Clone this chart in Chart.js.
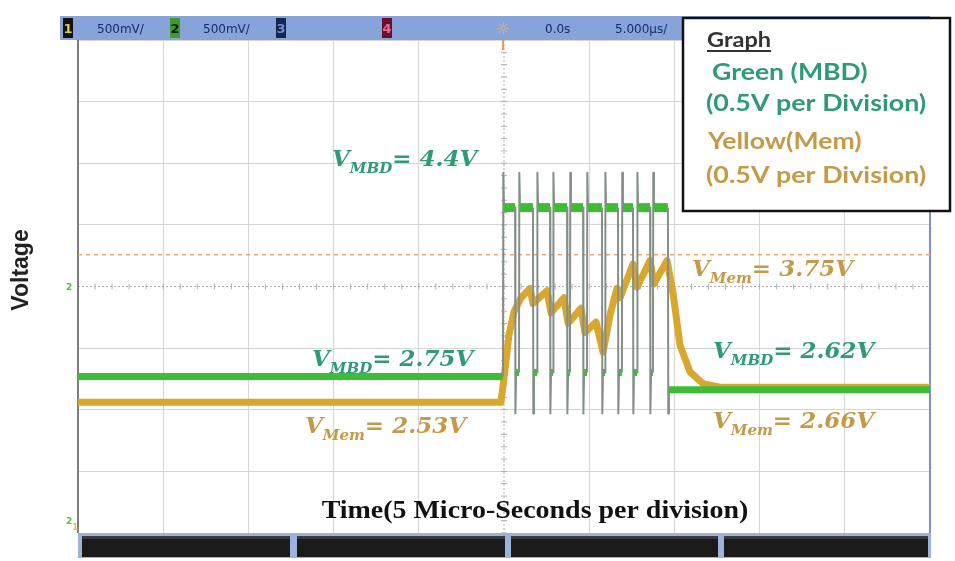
<!DOCTYPE html>
<html>
<head>
<meta charset="utf-8">
<title>MBD / Mem</title>
<script src="https://cdn.jsdelivr.net/npm/chart.js@4.4.1/dist/chart.umd.min.js"></script>
<style>
  html, body { margin: 0; padding: 0; background: #fff; }
  canvas { display: block; }
</style>
</head>
<body>
<canvas id="scope" width="955" height="561"></canvas>
<script>
// Time base: 5 us per division, 10 divisions around the trigger
const timeMin = -25
const timeMax = 25
const timeStep = 5

// Vertical graticule
const divCount = 8

// Channel 2 (MBD) pulse train edges, in us
const mbdRise = [-0.06, 0.88, 1.94, 2.88, 3.87, 4.87, 5.93, 6.92, 7.81, 8.74]
const mbdFall = [0.65, 1.70, 2.70, 3.70, 4.64, 5.75, 6.69, 7.57, 8.57, 9.62]

// Channel 2 levels (V)
const mbdBefore = 2.75
const mbdHigh = 4.4
const mbdOvershoot = 4.74
const mbdLow = 2.79
const mbdUndershoot = 2.39
const mbdAfter = 2.62

// Channel 1 (Mem) levels (V)
const memBefore = 2.53
const memPeak = 3.75
const memAfter = 2.66

// Channel 1 trace
const memTime = [-25, -0.18, 0.06, 0.29, 0.59, 1.0, 1.53, 1.70, 2.52, 2.76, 3.52, 3.76, 4.52, 4.75, 5.40, 5.81, 6.22, 6.63, 6.81, 7.57, 7.81, 8.57, 8.80, 9.57, 9.92, 10.33, 10.92, 11.68, 12.68, 25]
const memVolt = [memBefore, memBefore, 2.81, 3.11, 3.31, 3.43, 3.51, 3.38, 3.49, 3.30, 3.43, 3.21, 3.34, 3.13, 3.22, 2.96, 3.28, 3.51, 3.43, 3.72, 3.52, memPeak, 3.55, memPeak, 3.47, 3.02, 2.79, 2.69, memAfter, memAfter]

// Trigger level on channel 1
const trigLevel = 3.8

// Screen range of each channel (offset + scale)
const mbdRange = [1.222, 6.037]
const memRange = [1.405, 5.648]

const GREEN = '#3dbd35'
const EDGE = '#858f88'
const GOLD = '#d9a62e'
const TEAL_TXT = '#2f9a78'
const GOLD_TXT = '#c49a48'

function mbdPoints() {
  const pts = [{ x: timeMin, y: mbdBefore }]
  mbdRise.forEach((r, i) => {
    const f = mbdFall[i]
    const last = i == mbdRise.length - 1
    pts.push({ x: r, y: i == 0 ? mbdBefore : mbdLow })
    pts.push({ x: r + 0.02, y: mbdOvershoot })
    pts.push({ x: r + 0.06, y: mbdHigh })
    pts.push({ x: f, y: mbdHigh })
    pts.push({ x: f + 0.02, y: mbdUndershoot })
    pts.push({ x: f + 0.06, y: last ? mbdAfter : mbdLow })
  })
  pts.push({ x: timeMax, y: mbdAfter })
  return pts
}

// steep parts of the trace are drawn thin and grey, like on the scope
const isEdge = s => Math.abs(s.p1.parsed.y - s.p0.parsed.y) > 0.1

function line(c, x1, y1, x2, y2) {
  c.beginPath()
  c.moveTo(x1, y1)
  c.lineTo(x2, y2)
  c.stroke()
}

// text squeezed/stretched horizontally
function wideText(c, text, x, y, sx) {
  c.save()
  c.translate(x, y)
  c.scale(sx, 1)
  c.fillText(text, 0, 0)
  c.restore()
  return c.measureText(text).width * sx
}

function chBox(c, x, label, bg, fg) {
  c.fillStyle = bg
  c.fillRect(x, 18, 10, 20)
  c.fillStyle = fg
  c.font = 'bold 13px "DejaVu Sans"'
  c.textAlign = 'center'
  c.fillText(label, x + 5, 33)
  c.textAlign = 'left'
}

function valueLabel(c, x, y, sub, value, color) {
  c.fillStyle = color
  c.font = 'bold italic 23px "DejaVu Serif"'
  c.fillText('V', x, y)
  let w = c.measureText('V').width
  c.font = 'bold italic 15px "DejaVu Serif"'
  c.fillText(sub, x + w, y + 7)
  w += c.measureText(sub).width
  c.font = 'bold italic 23px "DejaVu Serif"'
  c.fillText('= ' + value + 'V', x + w, y)
}

const scopeScreen = {
  id: 'scopeScreen',
  beforeDraw(chart) {
    const c = chart.ctx
    c.save()
    c.fillStyle = '#fff'
    c.fillRect(0, 0, chart.width, chart.height)
    c.restore()
  },
  beforeDatasetsDraw(chart) {
    const { ctx: c, chartArea: a, scales } = chart
    const cx = scales.x.getPixelForValue(0)
    const cy = scales.div.getPixelForValue(divCount / 2)
    c.save()
    c.strokeStyle = '#b0b0b0'
    c.lineWidth = 1
    c.setLineDash([2, 2])
    line(c, a.left, cy, a.right, cy)
    line(c, cx, a.top, cx, a.bottom)
    c.setLineDash([])
    // minor ticks, 5 per division
    for (let t = timeMin; t <= timeMax; t += 1) {
      const px = scales.x.getPixelForValue(t)
      line(c, px, cy - 3, px, cy + 3)
    }
    for (let d = 0; d <= divCount; d += 0.2) {
      const py = scales.div.getPixelForValue(d)
      line(c, cx - 3, py, cx + 3, py)
    }
    // frame
    c.lineWidth = 2
    c.strokeStyle = '#7d7d7d'
    line(c, a.left, a.top, a.left, a.bottom)
    c.strokeStyle = '#8093c0'
    line(c, a.right, a.top, a.right, a.bottom)
    // trigger position marker
    c.strokeStyle = '#f09a4a'
    line(c, cx - 1, a.top, cx - 1, a.top + 10)
    c.restore()
  },
  afterDraw(chart) {
    const { ctx: c, chartArea: a } = chart
    c.save()

    // status bar
    c.fillStyle = '#86a4d8'
    c.fillRect(60, 16, a.right - 60, 24)
    chBox(c, 63, '1', '#111', '#e3cf3a')
    chBox(c, 170, '2', '#3c9c2c', '#0c1a0c')
    chBox(c, 276, '3', '#16264f', '#6d8fd8')
    chBox(c, 382, '4', '#6c1030', '#e07090')
    c.fillStyle = '#1b2a66'
    c.font = '12px "DejaVu Sans"'
    c.fillText('500mV/', 97, 33)
    c.fillText('500mV/', 203, 33)
    c.fillText('0.0s', 545, 33)
    c.fillText('5.000µs/', 615, 33)
    c.fillStyle = '#f2b36a'
    c.font = '16px "DejaVu Sans"'
    c.fillText('☼', 496, 34)

    // softkey bar
    c.fillStyle = '#9db3dc'
    c.fillRect(a.left, a.bottom, a.right - a.left + 1, 25)
    ;[[82, 290], [297, 505], [511, 718], [724, 928]].forEach(([l, r]) => {
      c.fillStyle = '#1b1b1b'
      c.fillRect(l, a.bottom + 3, r - l, 21)
      c.fillStyle = '#3a3a3a'
      c.fillRect(l, a.bottom + 3, r - l, 3)
    })

    // ground / channel markers on the left
    c.font = 'bold 9px "DejaVu Sans"'
    c.fillStyle = '#4cc43a'
    c.fillText('2', 66, 290)
    c.fillText('2', 66, 524)
    c.fillStyle = '#e0c63a'
    c.fillText('1', 72, 530)

    // legend box
    c.fillStyle = '#fff'
    c.fillRect(683, 18, 267, 193)
    c.strokeStyle = '#111'
    c.lineWidth = 2.5
    c.strokeRect(683, 18, 267, 193)
    c.font = 'bold 21px Lato'
    c.fillStyle = '#333'
    const gw = wideText(c, 'Graph', 707, 47, 1.12)
    c.lineWidth = 2
    c.strokeStyle = '#333'
    line(c, 707, 51, 707 + gw, 51)
    c.font = 'bold 22px Lato'
    c.fillStyle = TEAL_TXT
    wideText(c, 'Green (MBD)', 712, 80, 1.21)
    wideText(c, '(0.5V per Division)', 706, 111, 1.22)
    c.fillStyle = GOLD_TXT
    wideText(c, 'Yellow(Mem)', 708, 149, 1.21)
    wideText(c, '(0.5V per Division)', 706, 183, 1.22)

    // measured values
    valueLabel(c, 332, 166, 'MBD', mbdHigh, TEAL_TXT)
    valueLabel(c, 312, 366, 'MBD', mbdBefore, TEAL_TXT)
    valueLabel(c, 305, 433, 'Mem', memBefore, GOLD_TXT)
    valueLabel(c, 692, 276, 'Mem', memPeak, GOLD_TXT)
    valueLabel(c, 713, 358, 'MBD', mbdAfter, TEAL_TXT)
    valueLabel(c, 713, 428, 'Mem', memAfter, GOLD_TXT)

    // axis titles
    c.fillStyle = '#111'
    c.font = 'bold 26px "Liberation Serif"'
    const tt = 'Time(5 Micro-Seconds per division)'
    const tw = c.measureText(tt).width * 1.075
    wideText(c, tt, 535 - tw / 2, 518, 1.075)
    c.translate(22, 270)
    c.rotate(-Math.PI / 2)
    c.font = 'bold 23px "Liberation Sans"'
    c.fillStyle = '#222'
    c.textAlign = 'center'
    c.textBaseline = 'middle'
    c.fillText('Voltage', 0, 0)
    c.restore()
  }
}

const gridColor = '#d6d6d6'

new Chart(document.getElementById('scope'), {
  type: 'line',
  data: {
    datasets: [
      {
        label: 'MBD',
        data: mbdPoints(),
        yAxisID: 'yM2',
        borderColor: GREEN,
        borderWidth: 7,
        borderJoinStyle: 'round',
        segment: {
          borderColor: s => isEdge(s) ? EDGE : GREEN,
          borderWidth: s => isEdge(s) ? 2 : (s.p0.parsed.y == mbdHigh ? 9 : 7)
        }
      },
      {
        label: 'Mem',
        data: memTime.map((t, i) => ({ x: t, y: memVolt[i] })),
        yAxisID: 'yM1',
        borderColor: GOLD,
        borderWidth: 7,
        borderJoinStyle: 'round'
      },
      {
        label: 'Trigger',
        data: [{ x: timeMin, y: trigLevel }, { x: timeMax, y: trigLevel }],
        yAxisID: 'yM1',
        borderColor: '#f3a66b',
        borderWidth: 1.5,
        borderDash: [4, 4]
      }
    ]
  },
  options: {
    responsive: false,
    animation: false,
    layout: { padding: { left: 78, right: 25, top: 40, bottom: 28 } },
    elements: { point: { radius: 0 } },
    plugins: {
      legend: { display: false },
      tooltip: { enabled: false }
    },
    scales: {
      x: {
        type: 'linear',
        min: timeMin,
        max: timeMax,
        ticks: { display: false, stepSize: timeStep },
        grid: {
          drawTicks: false,
          color: c => (c.tick.value == 0 || Math.abs(c.tick.value) == timeMax) ? 'rgba(0,0,0,0)' : gridColor
        },
        border: { display: false },
        afterFit: s => { s.height = 0 }
      },
      div: {
        type: 'linear',
        position: 'left',
        min: 0,
        max: divCount,
        ticks: { display: false, stepSize: 1 },
        grid: {
          drawTicks: false,
          color: c => c.tick.value == divCount / 2 ? 'rgba(0,0,0,0)' : gridColor
        },
        border: { display: false },
        afterFit: s => { s.width = 0 }
      },
      yM2: { type: 'linear', display: false, min: mbdRange[0], max: mbdRange[1] },
      yM1: { type: 'linear', display: false, min: memRange[0], max: memRange[1] }
    }
  },
  plugins: [scopeScreen]
})
</script>
</body>
</html>
